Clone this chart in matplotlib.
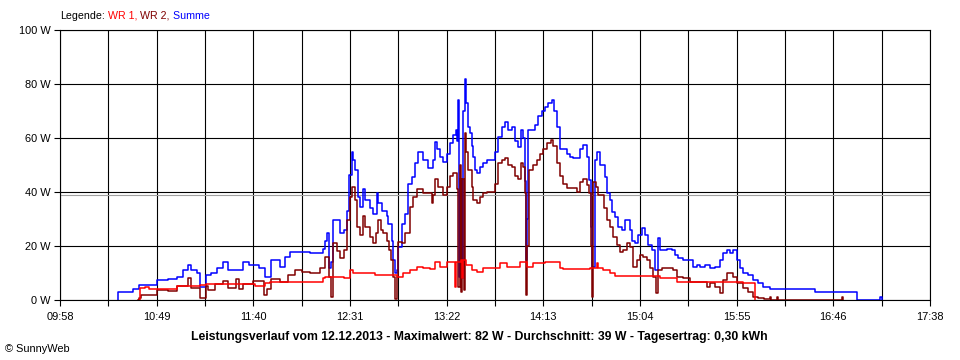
import matplotlib
matplotlib.use('Agg')
import matplotlib.pyplot as plt
import numpy as np

plt.rcParams['font.family'] = ['Liberation Sans', 'DejaVu Sans']

# Zeit in Minuten seit Mitternacht, Leistung in W
t_sum = [628.5, 628.8, 636.8, 639.9, 649.5, 655.0, 659.7, 663.2, 665.9, 667.0,
         670.3, 672.0, 675.2, 678.0, 680.8, 684.4, 687.0, 694.9, 698.0, 703.0,
         706.4, 709.4, 712.0, 714.3, 717.0, 719.6, 730.2, 737.0, 738.1, 739.3,
         740.4, 741.3, 742.5, 746.0, 748.1, 749.5, 750.8, 752.2, 753.0, 753.9,
         755.7, 756.6, 758.0, 759.2, 761.9, 763.6, 765.4, 766.3, 768.0, 770.7,
         771.6, 773.3, 774.2, 775.1, 776.0, 776.9, 778.6, 780.4, 782.1, 783.9,
         785.7, 787.4, 790.1, 792.7, 795.4, 796.2, 797.1, 798.9, 800.6, 802.4,
         804.2, 805.9, 807.3, 808.0, 808.6, 809.1, 809.6, 810.4, 811.2, 812.1,
         812.6, 813.9, 814.7, 815.6, 816.5, 817.4, 818.3, 820.0, 821.8, 823.6,
         828.0, 829.7, 831.5, 833.3, 835.0, 836.8, 838.5, 840.3, 841.5, 842.9,
         843.8, 844.3, 845.1, 845.6, 849.1, 850.9, 852.6, 854.4, 856.2, 857.9,
         859.2, 860.6, 862.3, 865.9, 867.6, 869.4, 872.9, 874.7, 876.4, 877.8,
         878.7, 879.4, 880.9, 881.7, 883.5, 886.1, 887.0, 888.8, 889.7, 891.4,
         893.2, 894.9, 896.7, 899.4, 900.2, 902.0, 903.8, 905.5, 907.3, 909.0,
         910.8, 912.6, 914.3, 915.2, 918.7, 921.4, 923.1, 924.9, 927.6, 932.8,
         934.6, 936.4, 939.0, 941.7, 944.3, 946.9, 948.7, 950.5, 952.2, 954.0,
         955.8, 957.5, 959.3, 961.9, 964.6, 967.2, 969.9, 973.4, 997.2, 1000.7,
         1019.2, 1019.6, 1031.5, 1032.5]
p_sum = [0, 2.8, 4, 5.5, 7.4, 7.8, 8.6, 11, 13, 11,
         10, 5, 9.3, 10, 11.7, 14, 11, 14, 13, 12,
         8.6, 14.8, 15, 12.3, 16, 17.9, 17.3, 19, 22, 24.7,
         11.7, 14, 29.6, 24.7, 26, 33, 46.3, 55, 52, 48,
         38, 34.6, 41, 37, 34, 32, 39.5, 36, 33, 31,
         28, 22, 14.8, 9.9, 11, 19.8, 28, 32, 43, 45.7,
         50.6, 55, 52, 49, 52, 58.6, 56, 53, 51, 54,
         58, 61, 63, 59, 74, 8.6, 45, 8, 70, 82,
         73, 64, 62, 57, 53, 48, 47, 49.4, 50.6, 52,
         55, 60.5, 64, 66, 63, 64, 59, 56.8, 63, 60,
         44, 15, 30, 63, 65, 68, 70, 71.6, 73, 74,
         70, 64, 56, 54, 53, 52.5, 56, 57.4, 53, 44.4,
         27, 12.3, 52, 55, 50, 45.7, 39.5, 37, 32.7, 30.9,
         27, 26, 29.6, 26, 22, 21, 24, 26.5, 24, 20.4,
         18.5, 11, 22.8, 18.5, 19, 18.5, 16.7, 15.4, 14.8, 12.3,
         13, 12.3, 13, 11.7, 12.3, 14.8, 17.3, 18.5, 17.3, 18.5,
         14.8, 11.7, 9.9, 9.3, 7.4, 6.2, 4.9, 4, 3.1, 3,
         1.2, 0, 1.2, 0]

t_wr2 = [639.5, 639.9, 641.0, 649.5, 655.0, 659.7, 665.9, 667.5, 672.0, 675.2,
         676.0, 680.0, 684.4, 687.0, 691.0, 692.5, 694.9, 700.2, 705.8, 707.5,
         709.4, 714.3, 718.7, 722.0, 726.0, 730.2, 735.4, 738.1, 740.4, 741.3,
         742.5, 744.3, 746.0, 748.1, 749.5, 751.3, 752.5, 753.9, 755.2, 756.6,
         758.0, 759.2, 761.9, 763.6, 765.0, 766.3, 767.7, 769.0, 770.7, 772.1,
         772.8, 774.2, 775.1, 776.0, 776.9, 778.6, 780.4, 783.0, 784.8, 786.5,
         790.1, 794.6, 795.4, 796.2, 798.0, 800.6, 802.4, 804.2, 805.9, 807.7,
         808.3, 808.6, 809.3, 810.1, 810.8, 811.4, 812.1, 812.8, 813.9, 815.6,
         816.5, 818.3, 820.0, 821.8, 823.6, 828.0, 829.7, 831.5, 833.3, 835.0,
         836.8, 838.5, 840.3, 841.5, 842.9, 843.8, 844.3, 845.1, 846.1, 848.2,
         850.0, 851.8, 853.5, 855.3, 857.4, 858.8, 860.6, 862.3, 864.1, 865.9,
         871.2, 872.9, 874.7, 876.4, 877.8, 878.7, 879.1, 880.0, 881.4, 882.6,
         885.6, 887.0, 888.8, 890.5, 892.3, 894.1, 895.8, 897.6, 899.4, 901.1,
         902.9, 904.6, 906.4, 908.2, 909.9, 911.7, 913.1, 914.3, 916.1, 922.3,
         924.0, 927.6, 931.1, 939.9, 941.7, 944.3, 946.9, 948.3, 950.5, 954.0,
         955.8, 959.3, 962.0, 964.6, 967.2, 970.0, 973.2, 973.8, 977.0, 977.6,
         1011.4, 1012.0]
p_wr2 = [0, 0.7, 1.8, 3.7, 3.5, 5.2, 8, 4.5, 0.9, 5.2,
         3.7, 6, 7, 4.5, 7.7, 4, 6, 7.2, 1.8, 4,
         7.7, 6.5, 9.3, 11, 10.5, 9.9, 11.7, 16, 8.6, 1.2,
         21, 18, 15.4, 18.5, 29.6, 38, 42, 37, 27, 24,
         31, 27, 23.5, 21, 25, 29.6, 26, 25, 22, 18.5,
         15, 8.6, 0.3, 8.6, 21.6, 21, 24.7, 34.6, 38, 41,
         39.5, 35.8, 38.9, 45, 42, 38.9, 42, 46, 47, 41,
         30, 5, 50, 3, 45, 3.7, 62, 55, 48, 42,
         37, 35.8, 38, 39.5, 40, 43, 50.6, 51.9, 52.5, 50,
         49.4, 46, 45, 50.6, 49.4, 39.5, 1.9, 20, 48, 50,
         51.9, 54, 56, 58, 59.3, 57, 50.6, 46, 43, 41.4,
         40, 43.8, 45, 42.5, 39.5, 20, 1, 43.8, 42, 38.9,
         34, 29.6, 27, 23.5, 20.4, 17.9, 18.5, 21, 19.8, 12.3,
         14.8, 16.7, 16, 14.8, 11.7, 8.6, 2.5, 11, 11.7, 11,
         8.6, 8, 6.8, 4.9, 6.2, 4.9, 2.5, 7.4, 9.9, 8.6,
         6.2, 4.3, 3.1, 1.2, 0.8, 0.3, 1.2, 0, 1.2, 0,
         1.2, 0]

t_wr1 = [640.0, 640.3, 643.0, 645.0, 660.0, 672.0, 675.2, 701.0, 706.4, 709.0,
         737.0, 738.1, 748.1, 751.3, 753.0, 764.5, 776.0, 779.5, 783.0, 786.5,
         790.1, 793.6, 796.2, 798.9, 802.4, 807.0, 807.4, 810.0, 810.5, 811.0,
         812.9, 815.6, 818.3, 821.8, 830.6, 834.1, 841.2, 844.7, 848.2, 854.4,
         862.3, 864.1, 878.2, 881.7, 882.2, 885.3, 888.8, 891.4, 915.2, 924.0,
         938.1, 948.7, 959.3, 965.0, 965.5]
p_wr1 = [0, 4.3, 4.8, 4, 5.2, 5.5, 5.9, 5.2, 6.2, 6.8,
         8, 8.6, 8.3, 11, 9.9, 9.3, 8.6, 9.9, 11, 12.3,
         11.7, 11.4, 14, 12.3, 14.2, 5, 14.2, 15, 8, 14.8,
         13, 11, 10.5, 11.7, 13.6, 12.3, 14.2, 12.3, 13.6, 14.2,
         11.7, 11.4, 11.7, 13.6, 11.7, 11.1, 9.9, 8.9, 8, 6.8,
         6.5, 6.8, 6.2, 6.2, 0]

x_labels = ['09:58', '10:49', '11:40', '12:31', '13:22', '14:13', '15:04', '15:55', '16:46', '17:38']
y_ticks = [0, 20, 40, 60, 80, 100]
average = 39

t_start, t_end = 598, 1058

fig = plt.figure(figsize=(9.6, 3.6), dpi=100)
ax = fig.add_axes([60 / 960, 60 / 360, 870 / 960, 270 / 360])

ax.plot(t_sum, p_sum, drawstyle='steps-post', color='#0000ff', lw=1.1, zorder=2)
ax.plot(t_wr2, p_wr2, drawstyle='steps-post', color='#800000', lw=1.1, zorder=2.1)
ax.plot(t_wr1, p_wr1, drawstyle='steps-post', color='#ff0000', lw=1.1, zorder=2.2)
ax.axhline(average, color='#a0a0a0', lw=0.8, zorder=1.5)

ax.set_xlim(t_start, t_end)
ax.set_ylim(0, 100)
major = np.linspace(t_start, t_end, len(x_labels))
ax.set_xticks(major)
ax.set_xticklabels(x_labels)
ax.set_xticks((major[:-1] + major[1:]) / 2, minor=True)
ax.set_yticks(y_ticks)
ax.set_yticklabels([f"{v} W" for v in y_ticks])

ax.tick_params(which='both', direction='out', length=4, width=0.8, color='black',
               labelsize=7.9, pad=3)
ax.tick_params(axis='x', which='both', pad=5)
ax.set_axisbelow(True)
ax.grid(which='both', axis='x', color='black', lw=0.8)
ax.grid(which='major', axis='y', color='black', lw=0.8)
for sp in ax.spines.values():
    sp.set_color('black')
    sp.set_linewidth(0.8)

# Legende oben links
leg = fig.text(60 / 960, 1 - 16 / 360, 'Legende:', fontsize=7.7, va='center', color='black')
prev = leg
for txt, col in [(' WR 1,', '#ff0000'), (' WR 2,', '#800000'), (' Summe', '#0000ff')]:
    prev = ax.annotate(txt, xy=(1, 0), xycoords=prev, va='bottom', ha='left',
                       fontsize=7.7, color=col, annotation_clip=False)

fig.text(0.499, 1 - 337 / 360,
         'Leistungsverlauf vom 12.12.2013 - Maximalwert: 82 W - Durchschnitt: 39 W - Tagesertrag: 0,30 kWh',
         ha='center', va='center', fontsize=8.8, fontweight='bold')
fig.text(5 / 960, 1 - 349 / 360, '© SunnyWeb', ha='left', va='center', fontsize=7.9)

fig.savefig('out.png', dpi=100)
